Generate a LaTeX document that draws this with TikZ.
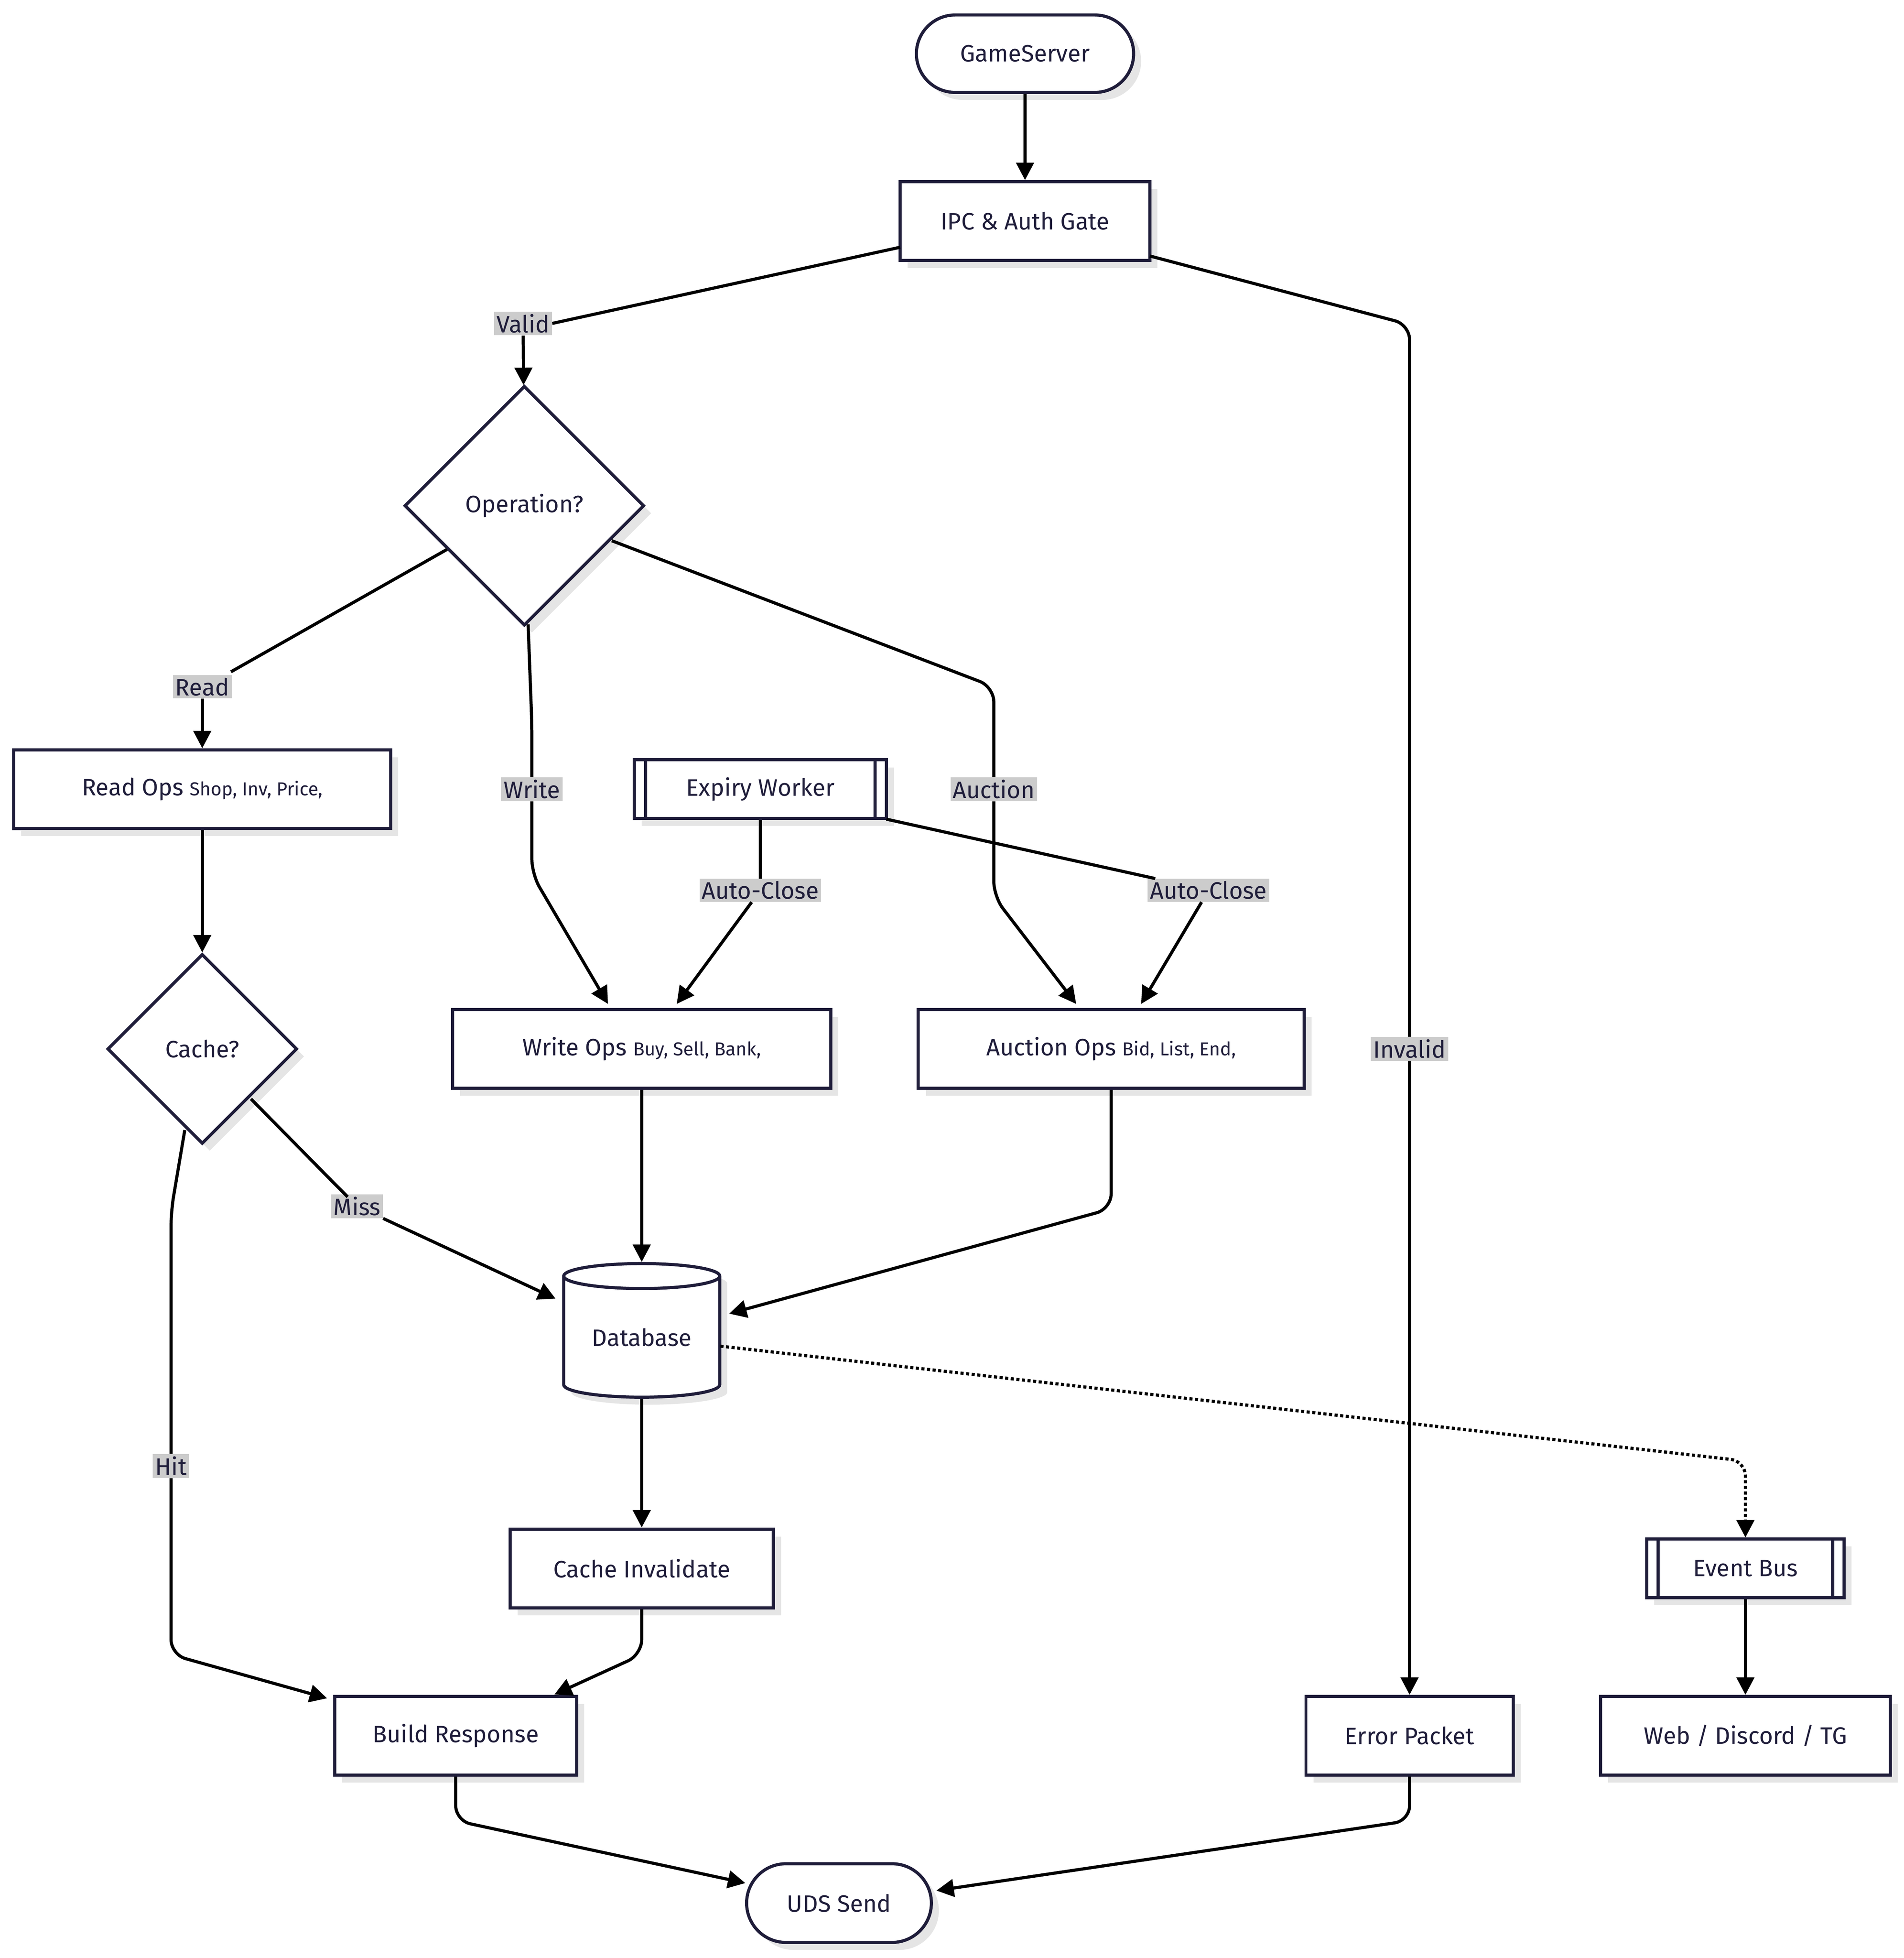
\documentclass[tikz,border=0pt]{standalone}
\usepackage{fontspec}
\setmainfont{Fira Sans}
\usetikzlibrary{shapes.geometric,shadows,arrows.meta}
\definecolor{ink}{HTML}{1F1D3A}
\definecolor{lblg}{HTML}{CCCCCC}
\tikzset{
 base/.style={draw=ink,line width=2.5pt,fill=white,text=ink,font=\fontsize{19}{22}\selectfont,
   drop shadow={shadow xshift=6pt,shadow yshift=-6pt,fill=black!10,opacity=1}},
 box/.style={base,rectangle,inner sep=0pt},
 stad/.style={base,rounded rectangle,inner sep=0pt},
 dia/.style={base,diamond,inner sep=0pt,minimum width=192pt,minimum height=192pt},
 lbl/.style={fill=lblg,text=ink,font=\fontsize{19}{22}\selectfont,inner sep=2pt},
 arr/.style={line width=2.5pt,black,rounded corners=12pt,-{Triangle[length=14pt,width=14pt]}},
 sm/.style={font=\fontsize{15}{18}\selectfont}
}
\usetikzlibrary{shapes.misc}
\begin{document}
\begin{tikzpicture}[x=1pt,y=1pt]
\useasboundingbox (0,0) rectangle (1525,-1568);
\node[stad,minimum width=174pt,minimum height=62pt] (gs) at (821,-43) {GameServer};
\node[box,minimum width=200pt,minimum height=63pt] (ipc) at (821,-177) {IPC \& Auth Gate};
\node[dia] (op) at (420,-405) {Operation?};
\node[box,minimum width=302pt,minimum height=63pt] (read) at (162,-632) {Read Ops {\fontsize{15}{18}\selectfont Shop, Inv, Price,}};
\node[dia,minimum width=152pt,minimum height=152pt] (cache) at (162,-840) {Cache?};
\node[box,minimum width=303pt,minimum height=63pt] (write) at (514,-840) {Write Ops {\fontsize{15}{18}\selectfont Buy, Sell, Bank,}};
\node[box,minimum width=202pt,minimum height=47pt] (exp) at (609,-632) {Expiry Worker};
\draw[ink,line width=2.5pt] (517,-609) -- (517,-656) (701,-609) -- (701,-656);
\node[box,minimum width=309pt,minimum height=63pt] (auc) at (890,-840) {Auction Ops {\fontsize{15}{18}\selectfont Bid, List, End,}};
\node[base,cylinder,shape border rotate=90,aspect=0.25,minimum width=125pt,minimum height=107pt,inner sep=0pt] (db) at (514,-1071) {Database};
\node[box,minimum width=211pt,minimum height=63pt] (ci) at (514,-1256) {Cache Invalidate};
\node[box,minimum width=194pt,minimum height=63pt] (br) at (365,-1390) {Build Response};
\node[box,minimum width=166pt,minimum height=63pt] (ep) at (1129,-1390) {Error Packet};
\node[box,minimum width=158pt,minimum height=47pt] (eb) at (1398,-1256) {Event Bus};
\draw[ink,line width=2.5pt] (1328,-1233) -- (1328,-1280) (1468,-1233) -- (1468,-1280);
\node[box,minimum width=232pt,minimum height=63pt] (web) at (1398,-1390) {Web / Discord / TG};
\node[stad,minimum width=148pt,minimum height=63pt] (uds) at (672,-1524) {UDS Send};
% labels
\node[lbl] (lvalid) at (419,-259) {Valid};
\node[lbl] (linv) at (1129,-840) {Invalid};
\node[lbl] (lread) at (162,-550) {Read};
\node[lbl] (lwrite) at (426,-632) {Write};
\node[lbl] (lauc) at (796,-632) {Auction};
\node[lbl] (lac1) at (609,-713) {Auto-Close};
\node[lbl] (lac2) at (968,-713) {Auto-Close};
\node[lbl] (lmiss) at (286,-966) {Miss};
\node[lbl] (lhit) at (137,-1174) {Hit};
% edges
\draw[arr] (gs) -- (ipc);
\draw[line width=2.5pt] (721,-198) -- (lvalid.east);
\draw[arr] (lvalid) -- (op);
\draw[line width=2.5pt,rounded corners=12pt] (921,-205) -- (1129,-260) -- (linv.north);
\draw[arr] (linv) -- (ep);
\draw[line width=2.5pt] (358,-440) -- (185,-538);
\draw[arr] (lread) -- (read);
\draw[line width=2.5pt,rounded corners=12pt] (423,-500) -- (426,-580) -- (lwrite.north);
\draw[arr] (lwrite.south) -- (426,-700) -- (487,-804);
\draw[line width=2.5pt,rounded corners=12pt] (490,-433) -- (796,-550) -- (lauc.north);
\draw[arr] (lauc.south) -- (796,-718) -- (862,-804);
\draw[line width=2.5pt] (exp) -- (lac1);
\draw[arr] (lac1) -- (542,-804);
\draw[line width=2.5pt] (710,-656) -- (lac2);
\draw[arr] (lac2) -- (914,-804);
\draw[arr] (read) -- (cache);
\draw[line width=2.5pt,rounded corners=12pt] (201,-880) -- (270,-950) -- (lmiss);
\draw[arr] (lmiss) -- (445,-1040);
\draw[line width=2.5pt,rounded corners=12pt] (148,-905) -- (137,-970) -- (lhit.north);
\draw[arr] (lhit.south) -- (137,-1325) -- (262,-1360);
\draw[arr] (write) -- (db.north);
\draw[arr] (auc.south) -- (890,-968) -- (584,-1052);
\draw[arr] (db.south) -- (ci);
\draw[arr,dotted] (577,-1078) -- (1398,-1170) -- (eb);
\draw[arr] (ci.south) -- (514,-1325) -- (444,-1357);
\draw[arr] (eb) -- (web);
\draw[arr] (br.south) -- (365,-1458) -- (597,-1508);
\draw[arr] (ep.south) -- (1129,-1458) -- (750,-1514);
\end{tikzpicture}
\end{document}
